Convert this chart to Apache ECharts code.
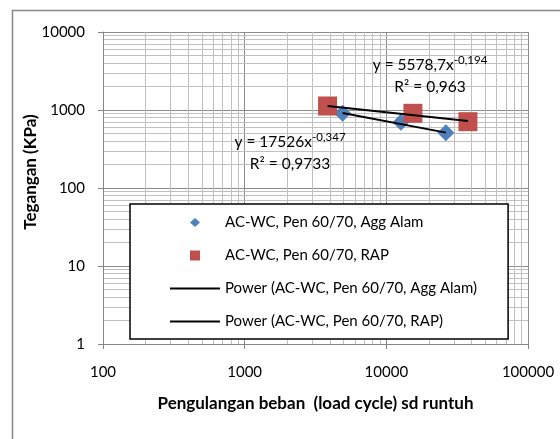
<!DOCTYPE html>
<html>
<head>
<meta charset="utf-8">
<script src="https://cdn.jsdelivr.net/npm/echarts@6/dist/echarts.min.js"></script>
<style>
html,body{margin:0;padding:0;background:#fff;}
#c{width:560px;height:439px;}
</style>
</head>
<body>
<div id="c"></div>
<script>
// ---- data ----
const seriesNames = [
  'AC-WC, Pen 60/70, Agg Alam',
  'AC-WC, Pen 60/70, RAP',
  'Power (AC-WC, Pen 60/70, Agg Alam)',
  'Power (AC-WC, Pen 60/70, RAP)'
];
const aggAlamCycles = [4910, 12680, 26330];
const aggAlamStress = [907, 695, 512];
const rapCycles = [3846, 15400, 37670];
const rapStress = [1125, 907, 708];
const trendAggCycles = [4910, 26330];
const trendAggStress = [918, 513];
const trendRapCycles = [3846, 37670];
const trendRapStress = [1125, 722];
const xTickLabels = [100, 1000, 10000, 100000];
const yTickLabels = [1, 10, 100, 1000, 10000];
const eqRap = ['y = 5578,7x', '-0,194', 'R² = 0,963'];
const eqAgg = ['y = 17526x', '-0,347', 'R² = 0,9733'];

const FONT = 'Lato';
const pairs = (xs, ys) => xs.map((x, i) => [x, ys[i]]);

// minor gridlines (2..9 within each decade)
const minorX = [];
for (let i = 0; i < xTickLabels.length - 1; i++)
  for (let m = 2; m <= 9; m++) minorX.push(m * xTickLabels[i]);
const minorY = [];
for (let i = 0; i < yTickLabels.length - 1; i++)
  for (let m = 2; m <= 9; m++) minorY.push(m * yTickLabels[i]);

const chart = echarts.init(document.getElementById('c'), null, {renderer: 'canvas'});

function eqText(e) {
  return '{b|' + e[0] + '}{s|' + e[1] + '}\n{b|' + e[2] + '}';
}
const eqRich = {
  b: {fontSize: 15.5, fontFamily: FONT, color: '#000', lineHeight: 22, align: 'center'},
  s: {fontSize: 11.5, fontFamily: FONT, color: '#000', verticalAlign: 'top', lineHeight: 22, align: 'center', padding: [0, 0, 8, 0]}
};
const plain = v => String(Math.round(v));

// legend icons: 50x12 box, marker centred
const ICON_DIAMOND = 'path://M0,0M50,12M25,1.5L30,6L25,10.5L20,6Z';
const ICON_SQUARE = 'path://M0,0M50,12M20,1L30,1L30,11L20,11Z';
const ICON_LINE = 'path://M0,0M50,12M0,5L50,5L50,7L0,7Z';

const option = {
  animation: false,
  backgroundColor: '#fff',
  grid: {left: 103, right: 32, top: 32, bottom: 95, containLabel: false},
  xAxis: {
    type: 'log', logBase: 10, min: 100, max: 100000,
    name: 'Pengulangan beban  (load cycle) sd runtuh',
    nameLocation: 'middle', nameGap: 51,
    nameTextStyle: {fontFamily: FONT, fontWeight: 'bold', fontSize: 17, color: '#000'},
    axisLine: {show: true, lineStyle: {color: '#868686', width: 1}},
    axisTick: {show: true, length: 5, inside: false, lineStyle: {color: '#868686'}},
    axisLabel: {fontFamily: FONT, fontSize: 15, color: '#000', margin: 21, formatter: plain},
    splitLine: {show: true, lineStyle: {color: '#8c8c8c', width: 1}},
    minorTick: {show: false}, minorSplitLine: {show: false}
  },
  yAxis: {
    type: 'log', logBase: 10, min: 1, max: 10000,
    name: 'Tegangan (KPa)',
    nameLocation: 'middle', nameGap: 64, nameMoveOverlap: false,
    nameTextStyle: {fontFamily: FONT, fontWeight: 'bold', fontSize: 17, color: '#000', padding: [0, 0, 0, 32]},
    axisLine: {show: true, lineStyle: {color: '#868686', width: 1}},
    axisTick: {show: true, length: 5, inside: false, lineStyle: {color: '#868686'}},
    axisLabel: {fontFamily: FONT, fontSize: 15, color: '#000', margin: 18, formatter: plain},
    splitLine: {show: true, lineStyle: {color: '#8c8c8c', width: 1}},
    minorTick: {show: false}, minorSplitLine: {show: false}
  },
  legend: {
    orient: 'vertical',
    left: 130, top: 204,
    data: [
      {name: seriesNames[0], icon: ICON_DIAMOND, itemStyle: {color: '#4F81BD'}},
      {name: seriesNames[1], icon: ICON_SQUARE, itemStyle: {color: '#C0504D'}},
      {name: seriesNames[2], icon: ICON_LINE, itemStyle: {color: '#000'}},
      {name: seriesNames[3], icon: ICON_LINE, itemStyle: {color: '#000'}}
    ],
    symbolKeepAspect: true,
    backgroundColor: '#fff',
    borderColor: '#000', borderWidth: 1.5,
    padding: [11, 31, 10, 40],
    itemWidth: 50, itemHeight: 12, itemGap: 18,
    textStyle: {fontFamily: FONT, fontSize: 15, color: '#000'},
    selectedMode: false
  },
  graphic: [
    {type: 'rect', left: 10, top: 8, silent: true, z: 100,
     shape: {width: 600, height: 500}, style: {fill: null, stroke: '#888', lineWidth: 1.5}},
    {type: 'text', x: 430, y: 54, z: 100,
     style: {text: eqText(eqRap), rich: eqRich, align: 'center', verticalAlign: 'top'}},
    {type: 'text', x: 290, y: 131, z: 100,
     style: {text: eqText(eqAgg), rich: eqRich, align: 'center', verticalAlign: 'top'}}
  ],
  series: [
    {
      name: 'minor-grid', type: 'line', data: [], silent: true, z: 0, zlevel: 0,
      markLine: {
        silent: true, symbol: ['none', 'none'], animation: false, z: 0,
        label: {show: false},
        lineStyle: {color: '#c0c0c0', type: 'solid', width: 1},
        emphasis: {disabled: true},
        data: minorX.map(v => ({xAxis: v})).concat(minorY.map(v => ({yAxis: v})))
      }
    },
    {
      name: seriesNames[0], type: 'scatter', symbol: 'diamond', symbolSize: 17,
      itemStyle: {color: '#4F81BD', opacity: 1}, z: 3,
      emphasis: {disabled: true},
      data: pairs(aggAlamCycles, aggAlamStress)
    },
    {
      name: seriesNames[1], type: 'scatter', symbol: 'rect', symbolSize: 19,
      itemStyle: {color: '#C0504D', opacity: 1}, z: 3,
      emphasis: {disabled: true},
      data: pairs(rapCycles, rapStress)
    },
    {
      name: seriesNames[2], type: 'line', symbol: 'none', showSymbol: false, z: 4,
      lineStyle: {color: '#000', width: 2}, itemStyle: {color: '#000'},
      data: pairs(trendAggCycles, trendAggStress)
    },
    {
      name: seriesNames[3], type: 'line', symbol: 'none', showSymbol: false, z: 4,
      lineStyle: {color: '#000', width: 2}, itemStyle: {color: '#000'},
      data: pairs(trendRapCycles, trendRapStress)
    }
  ]
};
chart.setOption(option);
</script>
</body>
</html>
